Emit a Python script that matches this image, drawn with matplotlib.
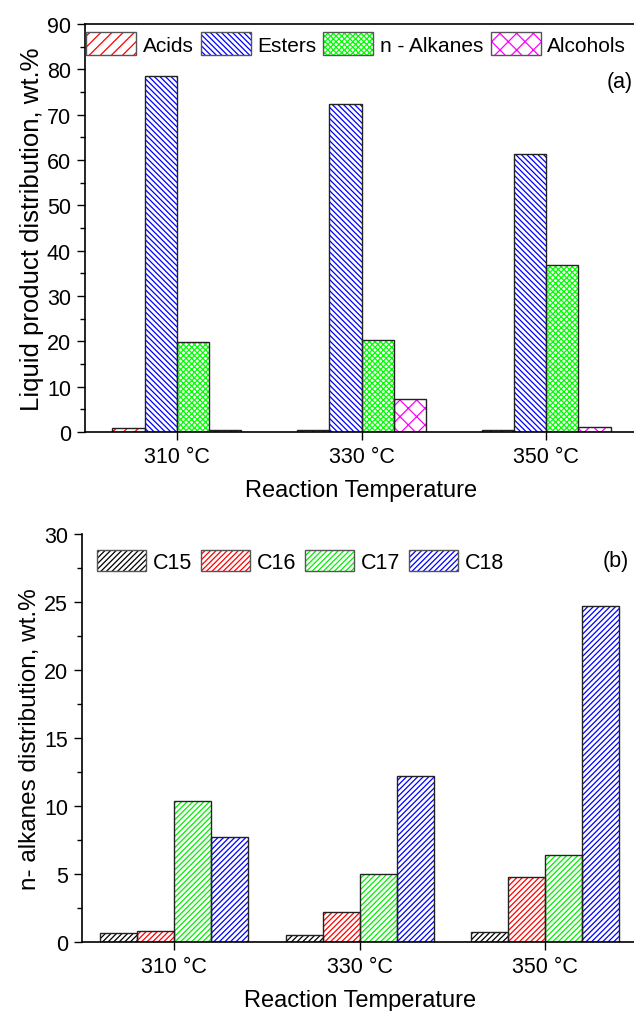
import numpy as np
import matplotlib
matplotlib.use("Agg")
import matplotlib.pyplot as plt
from matplotlib.patches import Patch
from matplotlib.legend_handler import HandlerTuple
from matplotlib.ticker import MultipleLocator

plt.rcParams['font.family'] = ['Liberation Sans', 'DejaVu Sans']
plt.rcParams['hatch.linewidth'] = 0.9

temps = ["310 °C", "330 °C", "350 °C"]

# liquid product groups, wt.%
acids = [0.9, 0.4, 0.5]
esters = [78.5, 72.3, 61.3]
alkanes = [19.9, 20.2, 36.9]
alcohols = [0.45, 7.2, 1.2]

# n-alkane chain lengths, wt.%
c15 = [0.67, 0.48, 0.75]
c16 = [0.78, 2.17, 4.75]
c17 = [10.4, 5.0, 6.4]
c18 = [7.7, 12.2, 24.7]

W, H = 634, 1012
fig = plt.figure(figsize=(W / 100, H / 100), dpi=100)


def hatched_bars(ax, x, vals, color, hatch, width):
    # hatch drawn in the series colour, outline drawn on top in dark grey
    ax.bar(x, vals, width, color='none', edgecolor=color, hatch=hatch, linewidth=0)
    ax.bar(x, vals, width, color='none', edgecolor='#222222', linewidth=1.0)
    return (Patch(facecolor='white', edgecolor=color, hatch=hatch, linewidth=0),
            Patch(facecolor='none', edgecolor='#555555', linewidth=1.0))


def style_axes(ax, ylabel, ylabel_size, ymax, major, minor):
    ax.set_xlim(0.5, 3.5)
    ax.set_ylim(0, ymax)
    ax.set_xticks([1, 2, 3])
    ax.set_xticklabels(temps)
    ax.yaxis.set_major_locator(MultipleLocator(major))
    ax.yaxis.set_minor_locator(MultipleLocator(minor))
    ax.tick_params(axis='both', which='major', labelsize=15.5, length=5.8, width=1.0,
                   direction='out', pad=4)
    ax.tick_params(axis='y', which='minor', length=3.6, width=1.0, direction='out')
    ax.set_xlabel("Reaction Temperature", fontsize=17, labelpad=9)
    ax.set_ylabel(ylabel, fontsize=ylabel_size, labelpad=2)
    ax.spines['right'].set_visible(False)
    for s in ax.spines.values():
        s.set_linewidth(1.2)


x = np.arange(1, 4)
tuple_handler = {tuple: HandlerTuple(ndivide=1, pad=0)}

# (a) liquid products
ax1 = fig.add_axes([84.5 / W, 1 - 433 / H, 554 / W, 408 / H])
bw = 0.175
series_a = [(acids, 'red', '///', "Acids"),
            (esters, 'blue', '\\\\\\\\\\\\', "Esters"),
            (alkanes, '#00ff00', 'xxxxxx', "n - Alkanes"),
            (alcohols, 'magenta', 'xx', "Alcohols")]
handles, labels = [], []
for i, (vals, col, hat, lab) in enumerate(series_a):
    handles.append(hatched_bars(ax1, x + (i - 1.5) * bw, vals, col, hat, bw))
    labels.append(lab)
style_axes(ax1, "Liquid product distribution, wt.%", 18.5, 90, 10, 5)
ax1.legend(handles, labels, handler_map=tuple_handler,
           loc='upper left', bbox_to_anchor=(-0.005, 0.99), ncol=4, frameon=False,
           fontsize=15, handlelength=2.4, handleheight=1.3, handletextpad=0.33,
           columnspacing=0.33, borderaxespad=0.1, borderpad=0.1)
ax1.text(0.99, 0.86, "(a)", transform=ax1.transAxes, fontsize=15.5,
         ha='right', va='center')

# (b) n-alkanes by chain length
ax2 = fig.add_axes([81.5 / W, 1 - 943 / H, 556.5 / W, 408 / H])
bw = 0.2
series_b = [(c15, 'black', '//////', "C15"),
            (c16, 'red', '//////', "C16"),
            (c17, '#00ee00', '//////', "C17"),
            (c18, 'blue', '//////', "C18")]
handles, labels = [], []
for i, (vals, col, hat, lab) in enumerate(series_b):
    handles.append(hatched_bars(ax2, x + (i - 1.5) * bw, vals, col, hat, bw))
    labels.append(lab)
style_axes(ax2, "n- alkanes distribution, wt.%", 17.5, 30, 5, 2.5)
ax2.spines['top'].set_visible(False)
ax2.legend(handles, labels, handler_map=tuple_handler,
           loc='upper left', bbox_to_anchor=(0.02, 0.9716), ncol=4, frameon=False,
           fontsize=15.5, handlelength=2.3, handleheight=1.1, handletextpad=0.3,
           columnspacing=0.4, borderaxespad=0.1, borderpad=0.1)
ax2.text(0.984, 0.936, "(b)", transform=ax2.transAxes, fontsize=15.5,
         ha='right', va='center')

fig.savefig("out.png", dpi=100)
